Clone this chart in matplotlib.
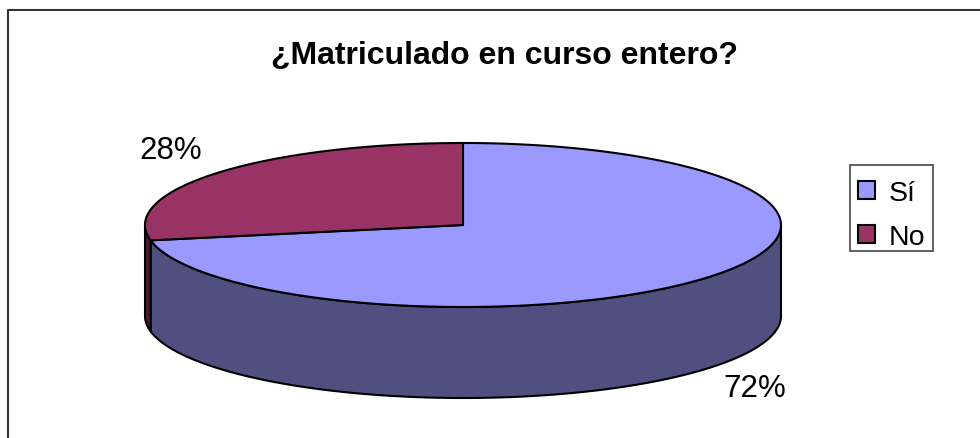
import numpy as np
import matplotlib
matplotlib.use('Agg')
import matplotlib.pyplot as plt
from matplotlib.patches import Patch, Polygon, Rectangle

title = '¿Matriculado en curso entero?'
categories = ['Sí', 'No']
shares = [72, 28]
top_colors = ['#9999FF', '#993366']
side_colors = ['#4F4F80', '#4D1A33']

# pie geometry in image pixels
cx, cy = 463, 226
rx, ry = 318, 82
depth = 91

plt.rcParams['font.family'] = ['Liberation Sans', 'DejaVu Sans']

fig = plt.figure(figsize=(9.8, 4.39), dpi=100)
ax = fig.add_axes([0, 0, 1, 1])
ax.set_xlim(0, 980)
ax.set_ylim(439, 0)
ax.axis('off')

# the outer frame only shows on the top and left, the rest is cut off
ax.plot([980, 8, 8], [11, 11, 439], color='#333333', linewidth=1.5)


def rim(a0, a1, n=200):
    t = np.radians(np.linspace(a0, a1, n))
    return cx + rx * np.cos(t), cy - ry * np.sin(t)


# slices run clockwise from 12 o'clock
edges = 90 - np.cumsum([0] + shares) * 3.6

# side walls, only the front half of the rim is visible
for i in range(len(shares)):
    a0 = min(edges[i], 0)
    a1 = max(edges[i + 1], -180)
    if a1 >= a0:
        continue
    x, y = rim(a0, a1)
    pts = np.vstack([np.column_stack([x, y]), np.column_stack([x[::-1], y[::-1] + depth])])
    ax.add_patch(Polygon(pts, closed=True, facecolor=side_colors[i], edgecolor='black', linewidth=1.5, joinstyle='round'))

# top faces
for i in range(len(shares)):
    x, y = rim(edges[i], edges[i + 1])
    pts = np.vstack([[cx, cy], np.column_stack([x, y])])
    ax.add_patch(Polygon(pts, closed=True, facecolor=top_colors[i], edgecolor='black', linewidth=1.5, joinstyle='round'))

ax.text(504, 56, title, fontsize=23, fontweight='bold', ha='center', va='center')
ax.text(755, 389, f'{shares[0]}%', fontsize=22.5, ha='center', va='center')
ax.text(171, 151, f'{shares[1]}%', fontsize=22.5, ha='center', va='center')

# legend box drawn apart because its entries sit low in the frame
ax.add_patch(Rectangle((850, 166), 83, 86, facecolor='white', edgecolor='#444444', linewidth=1.2))
handles = [Patch(facecolor=c, edgecolor='black', linewidth=1.5) for c in top_colors]
ax.legend(handles, categories, loc='center', bbox_to_anchor=(891.5 / 980, 1 - 216 / 439),
          fontsize=20.5, frameon=False, handlelength=0.62, handleheight=0.62,
          handletextpad=0.46, labelspacing=0.62, borderpad=0, borderaxespad=0)

fig.savefig('out.png', dpi=100)
